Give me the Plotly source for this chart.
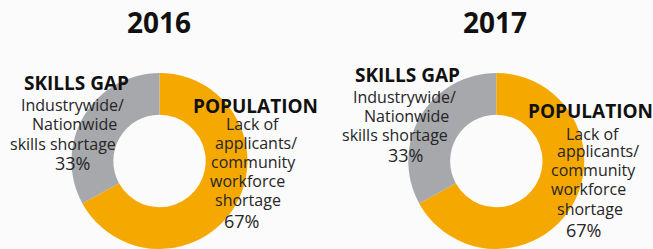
import plotly.graph_objects as go

W, H = 653, 249

years = ["2016", "2017"]
categories = ["POPULATION", "SKILLS GAP"]
values_2016 = [67, 33]
values_2017 = [67, 33]
colors = ["#F5A800", "#A7A8AB"]

skills_lines = ["Industrywide/", "Nationwide", "skills shortage"]
pop_lines = ["Lack of", "applicants/", "community", "workforce", "shortage"]
pct_labels_2016 = ["33%", "67%"]
pct_labels_2017 = ["33%", "67%"]

# layout helpers (pixel positions)
def px(x):
    return x / W

def py(y):
    return 1 - y / H

fig = go.Figure()

pie_r = 88
pie_centers = [(159.5, 161), (496.3, 161)]
for (cx, cy), vals, yr in zip(pie_centers, [values_2016, values_2017], years):
    fig.add_trace(go.Pie(
        labels=categories, values=vals, name=yr,
        hole=0.525, sort=False, direction="clockwise", rotation=0,
        marker=dict(colors=colors, line=dict(width=0)),
        textinfo="none", hoverinfo="label+percent", showlegend=False,
        domain=dict(x=[px(cx - pie_r), px(cx + pie_r)], y=[0, (2 * pie_r) / H]),
    ))

BODY = "Open Sans"
ann = []

def add(text, x, baseline, size, bold=False, color="#111111"):
    mid = baseline - 0.388 * size
    ann.append(dict(
        text=text, x=px(x), y=py(mid), xref="paper", yref="paper",
        xanchor="center", yanchor="middle", showarrow=False,
        font=dict(family=BODY, size=size, color=color,
                  weight="bold" if bold else 400),
    ))

# titles
add(years[0], 158.5, 33.3, 28, bold=True)
add(years[1], 495.0, 33.3, 28, bold=True)

# 2016 skills gap block
add(categories[1], 76.7, 90, 19, bold=True)
for t, x, b in zip(skills_lines, [72.5, 74, 62.5], [111.7, 130.7, 150]):
    add(t, x, b, 16, color="#262626")
add(pct_labels_2016[0], 72.5, 170, 18, color="#262626")

# 2016 population block
add(categories[0], 255.5, 113, 19, bold=True)
for t, x, b in zip(pop_lines, [253, 256, 253, 247.5, 248], [130.7, 149.3, 168, 187, 206]):
    add(t, x, b, 16, color="#262626")
add(pct_labels_2016[1], 241, 228, 18, color="#262626")

# 2017 skills gap block
add(categories[1], 407, 82, 19, bold=True)
for t, x, b in zip(skills_lines, [404.5, 406, 395], [103, 122.7, 141.7]):
    add(t, x, b, 16, color="#262626")
add(pct_labels_2017[0], 405.5, 162.3, 18, color="#262626")

# 2017 population block
add(categories[0], 590.7, 118, 19, bold=True)
for t, x, b in zip(pop_lines, [593, 598, 593, 588, 590], [140, 157.5, 176.7, 195, 215]):
    add(t, x, b, 16, color="#262626")
add(pct_labels_2017[1], 583, 236.7, 18, color="#262626")

fig.update_layout(
    width=W, height=H,
    margin=dict(l=0, r=0, t=0, b=0),
    paper_bgcolor="#FBFBFB", plot_bgcolor="#FBFBFB",
    annotations=ann,
)

fig.write_html(
    "out.html",
    config={"displayModeBar": False},
    post_script="document.body.style.margin='0';document.body.style.overflow='hidden';",
)
